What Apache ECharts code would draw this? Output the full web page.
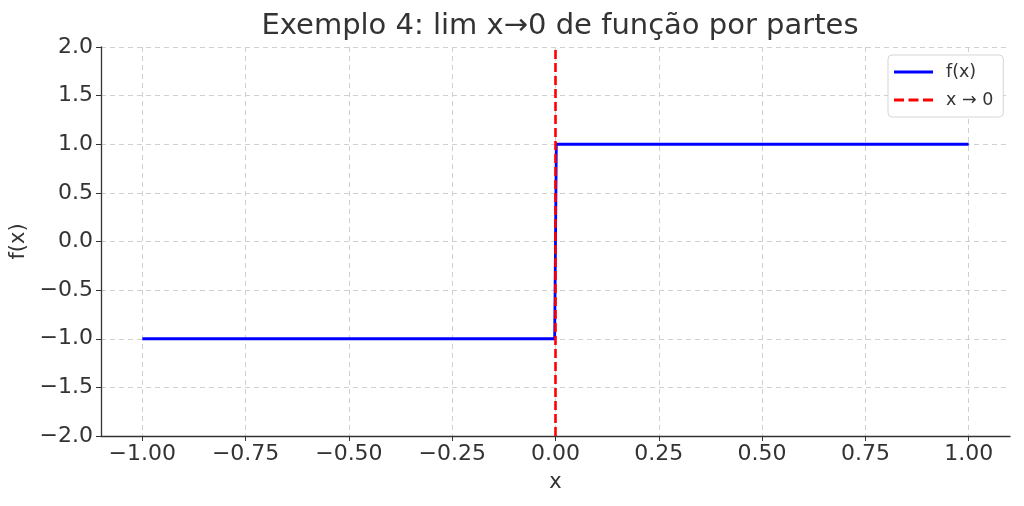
<!DOCTYPE html>
<html><head><meta charset="utf-8">
<script src="https://cdn.jsdelivr.net/npm/echarts@6/dist/echarts.min.js"></script>
<style>html,body{margin:0;padding:0;background:#fff}#c{width:1024px;height:506px}</style>
</head><body><div id="c"></div>
<script>
const titleText = 'Exemplo 4: lim x→0 de função por partes';
const fX = [-1, -0.002, 0.002, 1];
const fY = [-1, -1, 1, 1];
const limX = [0, 0];
const limY = [-2, 2];
const xTicks = [-1, -0.75, -0.5, -0.25, 0, 0.25, 0.5, 0.75, 1];
const seriesNames = ['f(x)', 'x → 0'];

const fmt = (v, d) => v.toFixed(d).replace('-', '−');
const font = 'DejaVu Sans';
const solidIcon = 'path://M0,0H39V3H0Z';
const dashIcon = 'path://M0,0H10V3H0Z M14.5,0H24.5V3H14.5Z M29,0H39V3H29Z';
const chart = echarts.init(document.getElementById('c'));
chart.setOption({
  animation: false,
  title: { text: titleText, left: 555, textAlign: 'center', top: 7,
    textStyle: { fontFamily: font, fontSize: 29, fontWeight: 'normal', color: '#333' } },
  legend: { left: 888, top: 55, orient: 'vertical', itemWidth: 39, itemHeight: 3, itemGap: 10,
    backgroundColor: '#fff', borderColor: '#d5d5d5', borderWidth: 1, borderRadius: 4, padding: [8, 10, 8, 6],
    textStyle: { fontFamily: font, fontSize: 17.5, color: '#333', padding: [0, 0, 0, 8] },
    data: [{ name: seriesNames[0], icon: solidIcon }, { name: seriesNames[1], icon: dashIcon }] },
  grid: { left: 101, right: 14, top: 47, bottom: 70, outerBoundsMode: 'none' },
  xAxis: { type: 'value', min: -1.1, max: 1.1,
    name: 'x', nameLocation: 'middle', nameGap: 36,
    nameTextStyle: { fontFamily: font, fontSize: 21, color: '#333' },
    axisLine: { show: true, onZero: false, lineStyle: { color: '#333', width: 1.3 } },
    axisTick: { show: true, length: 5, customValues: xTicks, lineStyle: { color: '#333' } },
    axisLabel: { customValues: xTicks, formatter: v => fmt(v, 2), fontFamily: font, fontSize: 22, color: '#333', margin: 7 },
    splitLine: { show: true, lineStyle: { color: '#d0d0d0', type: [5, 4], width: 1 } } },
  yAxis: { type: 'value', min: -2, max: 2, interval: 0.5,
    name: 'f(x)', nameLocation: 'middle', nameGap: 63, nameRotate: 90,
    nameTextStyle: { fontFamily: font, fontSize: 21, color: '#333' },
    axisLine: { show: true, onZero: false, lineStyle: { color: '#333', width: 1.3 } },
    axisTick: { show: true, length: 5, lineStyle: { color: '#333' } },
    axisLabel: { formatter: v => fmt(v, 1), fontFamily: font, fontSize: 22, color: '#333', margin: 8 },
    splitLine: { show: true, lineStyle: { color: '#d0d0d0', type: [5, 4], width: 1 } } },
  series: [
    { name: seriesNames[0], type: 'line', symbol: 'none', color: '#0000ff',
      lineStyle: { color: '#0000ff', width: 2.8 }, data: fX.map((x, i) => [x, fY[i]]), z: 2 },
    { name: seriesNames[1], type: 'line', symbol: 'none', color: '#ff0000',
      lineStyle: { color: '#ff0000', width: 2.6, type: [9, 4] }, data: limX.map((x, i) => [x, limY[i]]), z: 3 }
  ]
});
</script></body></html>
